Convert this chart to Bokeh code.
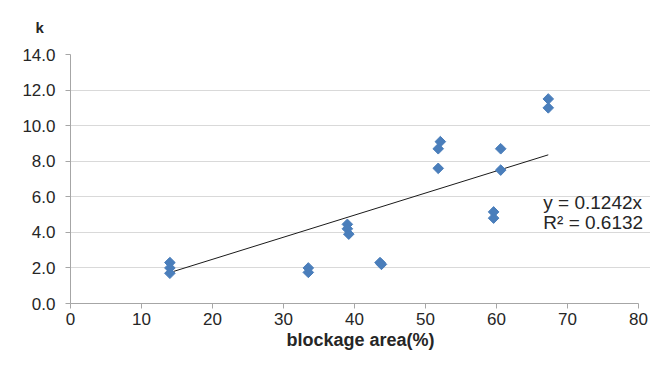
from bokeh.plotting import figure
from bokeh.models import Range1d, FixedTicker, NumeralTickFormatter, Label
from bokeh.embed import file_html
from bokeh.resources import INLINE
import math

# data
blockage = [14.0, 14.0, 14.0, 33.5, 33.5, 39.0, 39.0, 39.2, 43.6, 43.8,
            51.8, 52.1, 51.8, 59.6, 59.6, 60.6, 60.6, 67.3, 67.3]
k_vals = [2.3, 2.0, 1.7, 2.0, 1.75, 4.45, 4.2, 3.9, 2.3, 2.2,
          8.7, 9.1, 7.6, 5.15, 4.8, 8.7, 7.5, 11.5, 11.0]
slope = 0.1242
r2 = 0.6132
x_ticks = [0, 10, 20, 30, 40, 50, 60, 70, 80]
y_ticks = [0, 2, 4, 6, 8, 10, 12, 14]

FONT = "Liberation Sans"
TXT = "#262626"

p = figure(width=650, height=354, output_backend="svg", toolbar_location=None,
           x_range=Range1d(0, 81.7), y_range=Range1d(0, 14),
           min_border_left=70, min_border_right=0, min_border_top=54, min_border_bottom=51)
p.outline_line_color = None
p.background_fill_color = "white"

p.title.text = "k"
p.title.text_font = FONT
p.title.text_font_size = "15px"
p.title.text_font_style = "bold"
p.title.text_color = TXT
p.title.align = "left"
p.title.offset = -35
p.title.standoff = 34
p.title.vertical_align = "top"

p.xgrid.visible = False
p.ygrid.grid_line_color = "#d9d9d9"
p.ygrid.grid_line_width = 1
p.ygrid.ticker = FixedTicker(ticks=y_ticks)
p.ygrid.bounds = (0, 80)

for ax in (p.xaxis[0], p.yaxis[0]):
    ax.axis_line_color = "#a6a6a6"
    ax.major_tick_line_color = "#a6a6a6"
    ax.major_tick_out = 5
    ax.major_tick_in = 0
    ax.minor_tick_line_color = None
    ax.major_label_text_font = FONT
    ax.major_label_text_font_size = "17px"
    ax.major_label_text_color = TXT

p.xaxis.bounds = (0, 80)
p.xaxis.ticker = FixedTicker(ticks=x_ticks)
p.yaxis.ticker = FixedTicker(ticks=y_ticks)
p.yaxis.formatter = NumeralTickFormatter(format="0.0")
p.xaxis.major_label_standoff = 4
p.yaxis.major_label_standoff = 10

p.xaxis.axis_label = "blockage area(%)"
p.xaxis.axis_label_text_font = FONT
p.xaxis.axis_label_text_font_size = "18px"
p.xaxis.axis_label_text_font_style = "bold"
p.xaxis.axis_label_text_color = TXT
p.xaxis.axis_label_standoff = 2

# trendline through origin (y = slope * x), drawn over the data's x span
tx = [min(blockage), max(blockage)]
ty = [slope * v for v in tx]
p.line(tx, ty, line_color="#1a1a1a", line_width=1)

p.scatter(blockage, k_vals, marker="square", angle=math.pi / 4, size=7.5,
          fill_color="#4a7ebb", line_color="#4a7ebb")

p.add_layout(Label(x=66.6, y=5.67, text="y = %.4fx" % slope, text_font=FONT,
                   text_font_size="19px", text_color=TXT, text_baseline="middle"))
p.add_layout(Label(x=66.6, y=4.56, text="R² = %.4f" % r2, text_font=FONT,
                   text_font_size="19px", text_color=TXT, text_baseline="middle"))

open("out.html", "w").write(file_html(p, INLINE))
